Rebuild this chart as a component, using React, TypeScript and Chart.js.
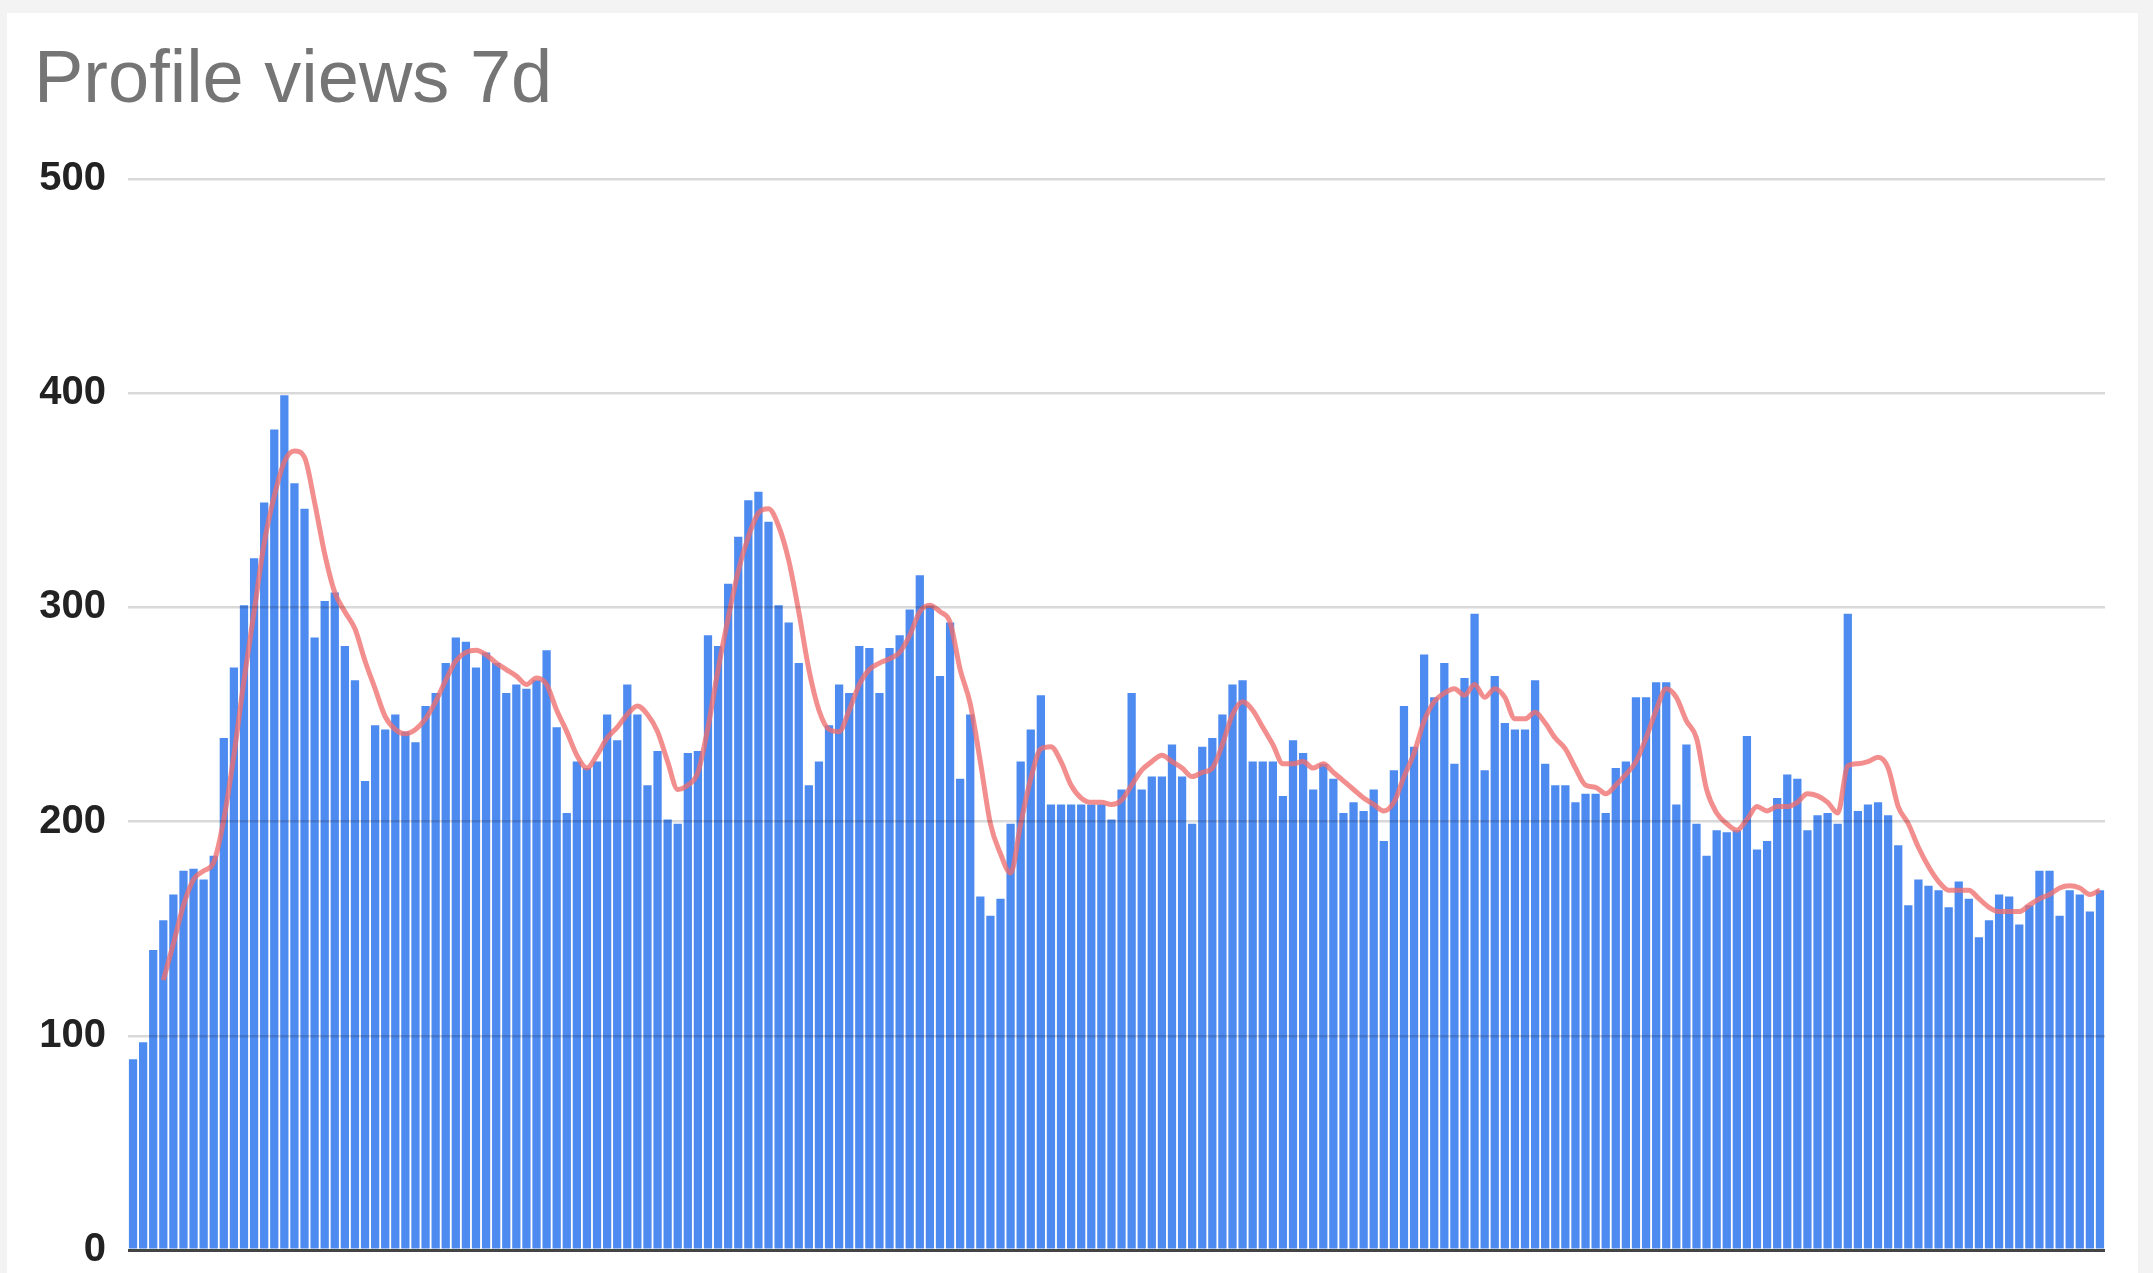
import React, { useEffect, useRef } from "react";
import { Chart, registerables } from "chart.js";

Chart.register(...registerables);

const TITLE = "Profile views 7d";
const Y_TICKS = [0, 100, 200, 300, 400, 500];

// Daily profile views (bars)
const views = [
  89, 97, 140, 154, 166, 177, 178, 173, 184, 239, 272, 301, 323, 349, 383, 399, 358, 346, 286, 303, 307, 282, 266, 219, 245,
  243, 250, 242, 237, 254, 260, 274, 286, 284, 272, 279, 274, 260, 264, 262, 266, 280, 244, 204, 228, 225, 228, 250, 238, 264,
  250, 217, 233, 201, 199, 232, 233, 287, 282, 311, 333, 350, 354, 340, 301, 293, 274, 217, 228, 245, 264, 260, 282, 281, 260,
  281, 287, 299, 315, 301, 268, 293, 220, 250, 165, 156, 164, 199, 228, 243, 259, 208, 208, 208, 208, 208, 208, 201, 215, 260,
  215, 221, 221, 236, 221, 199, 235, 239, 250, 264, 266, 228, 228, 228, 212, 238, 232, 215, 227, 220, 204, 209, 205, 215, 191,
  224, 254, 235, 278, 258, 274, 227, 267, 297, 224, 268, 246, 243, 243, 266, 227, 217, 217, 209, 213, 213, 204, 225, 228, 258,
  258, 265, 265, 208, 236, 199, 184, 196, 195, 196, 240, 187, 191, 211, 222, 220, 196, 203, 204, 199, 297, 205, 208, 209, 203,
  189, 161, 173, 170, 168, 160, 172, 164, 146, 154, 166, 165, 152, 161, 177, 177, 156, 168, 166, 158, 168,
];

// Smoothed trend line (red)
const trend = [
  null, null, null,
  126, 143, 161, 173, 177, 181, 201, 231, 266, 298, 330, 352, 368, 373, 370, 349, 325, 307, 298, 290, 275, 262,
  249, 243, 241, 243, 248, 256, 266, 275, 279, 280, 278, 274, 271, 268, 264, 267, 264, 252, 242, 231, 225, 231, 239, 244, 250,
  254, 250, 242, 228, 215, 217, 223, 244, 271, 295, 317, 333, 344, 346, 338, 322, 298, 271, 252, 243, 242, 252, 264, 271, 274,
  276, 279, 287, 298, 301, 298, 293, 271, 255, 228, 199, 185, 176, 199, 220, 234, 235, 228, 217, 211, 209, 209, 208, 210, 217,
  224, 228, 231, 228, 225, 221, 223, 225, 236, 250, 256, 252, 244, 236, 227, 227, 228, 225, 227, 223, 219, 215, 211, 208, 205,
  209, 221, 232, 247, 256, 260, 262, 259, 264, 258, 262, 258, 248, 248, 251, 246, 239, 234, 225, 217, 216, 213, 217, 222, 228,
  239, 252, 262, 258, 247, 239, 215, 204, 199, 196, 201, 207, 205, 207, 207, 209, 213, 212, 209, 204, 226, 227, 228, 230, 225,
  207, 199, 188, 179, 172, 168, 168, 168, 164, 160, 158, 158, 158, 161, 164, 166, 169, 170, 169, 166, 168,
];

const days = views.map((_, i) => `Day ${i + 1}`);

const FONT = '"Liberation Sans", Arial, Helvetica, sans-serif';

const titlePlugin = {
  id: "titleText",
  afterDraw(chart: any) {
    const ctx = chart.ctx;
    ctx.save();
    ctx.font = `74px ${FONT}`;
    ctx.fillStyle = "#757575";
    ctx.textBaseline = "alphabetic";
    ctx.textAlign = "left";
    ctx.fillText(TITLE, 34, 102);
    ctx.restore();
  },
};

export default function App() {
  const ref = useRef<HTMLCanvasElement | null>(null);

  useEffect(() => {
    if (!ref.current) return;
    const chart = new Chart(ref.current, {
      type: "bar",
      data: {
        labels: days,
        datasets: [
          {
            type: "line",
            label: "7d trend",
            data: trend,
            borderColor: "rgba(240, 110, 110, 0.78)",
            borderWidth: 5,
            pointRadius: 0,
            cubicInterpolationMode: "monotone",
            fill: false,
            spanGaps: false,
            order: 0,
          } as any,
          {
            type: "bar",
            label: "Profile views",
            data: views,
            backgroundColor: "#4d8bf0",
            borderWidth: 0,
            barPercentage: 0.82,
            categoryPercentage: 1,
            order: 1,
          } as any,
        ],
      },
      options: {
        responsive: false,
        animation: false,
        devicePixelRatio: 1,
        layout: { padding: { left: 34, top: 179, right: 48, bottom: 23 } },
        plugins: {
          legend: { display: false },
          title: { display: false },
          tooltip: { enabled: false },
        },
        scales: {
          x: { display: false, offset: true },
          y: {
            min: 0,
            max: 500,
            afterBuildTicks: (s: any) => {
              s.ticks = Y_TICKS.map((v) => ({ value: v }));
            },
            afterFit: (s: any) => {
              s.width = 94;
              s.paddingTop = 0;
              s.paddingBottom = 0;
            },
            ticks: {
              padding: 22,
              color: "#222222",
              font: { family: FONT, size: 40, weight: "bold" },
            },
            grid: {
              z: 1,
              drawTicks: false,
              color: (c: any) => (c.tick && c.tick.value === 0 ? "#444444" : "rgba(0,0,0,0.15)"),
              lineWidth: (c: any) => (c.tick && c.tick.value === 0 ? 3 : 2.5),
            },
            border: { display: false },
          },
        },
      },
      plugins: [titlePlugin],
    });
    return () => chart.destroy();
  }, []);

  return (
    <div
      style={{
        position: "absolute",
        left: 0,
        top: 0,
        width: 2153,
        height: 1273,
        background: "#f3f3f3",
        overflow: "hidden",
      }}
    >
      <div
        style={{
          position: "absolute",
          left: 7,
          top: 13,
          width: 2131,
          height: 1260,
          background: "#ffffff",
        }}
      />
      <canvas
        ref={ref}
        width={2153}
        height={1273}
        style={{ position: "absolute", left: 0, top: 0, width: 2153, height: 1273 }}
      />
    </div>
  );
}
